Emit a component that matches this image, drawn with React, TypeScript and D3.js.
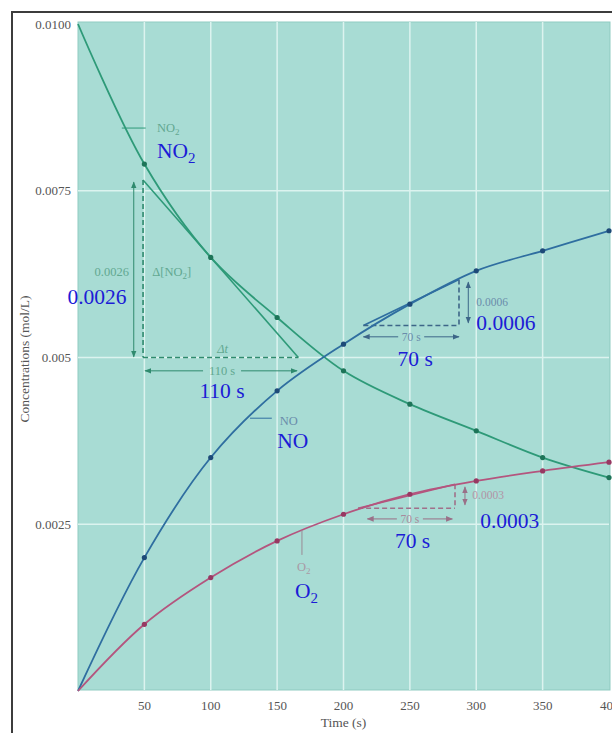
import React from 'react';
import * as d3 from 'd3';

// time points (s) and concentrations (mol/L)
const times = [0, 50, 100, 150, 200, 250, 300, 350, 400];
const no2 = [0.0100, 0.0079, 0.0065, 0.0056, 0.0048, 0.0043, 0.0039, 0.0035, 0.0032];
const no = [0, 0.0020, 0.0035, 0.0045, 0.0052, 0.0058, 0.0063, 0.0066, 0.0069];
const o2 = [0, 0.0010, 0.0017, 0.00225, 0.00265, 0.00295, 0.00315, 0.0033, 0.00343];

const xTicks = [50, 100, 150, 200, 250, 300, 350, 400];
const yTicks = [0.0025, 0.005, 0.0075, 0.01];
const yTickLabels = ['0.0025', '0.005', '0.0075', '0.0100'];

// tangent triangles: [t0, c0, t1, c1]
const tanNO2 = [49, 0.00766, 166, 0.0050];
const tanNO = [215, 0.00548, 287, 0.00617];
const tanO2 = [211, 0.00274, 284, 0.00310];

// blue overlay labels: text, t, c, anchor
const bigLabels = [
    {text: '0.0026', t: -8, c: 0.00592, a: 'start'},
    {text: '110 s', t: 108.5, c: 0.00451, a: 'middle'},
    {text: 'NO', t: 150, c: 0.00376, a: 'start'},
    {text: '0.0006', t: 300, c: 0.00553, a: 'start'},
    {text: '70 s', t: 254, c: 0.00499, a: 'middle'},
    {text: '0.0003', t: 303, c: 0.00256, a: 'start'},
    {text: '70 s', t: 252, c: 0.00226, a: 'middle'},
];

const W = 612, H = 733;
const serif = '"Liberation Serif", "Times New Roman", serif';
const BLUE = '#1c1cd6';
const BIG = 21.5;
const SMALL = 12.5;

const App = () => {
    const x = d3.scaleLinear().domain([0, 400]).range([78, 609]);
    const y = d3.scaleLinear().domain([0, 0.01]).range([691, 24]);

    const line = d3.line<number>()
        .x((d, i) => x(times[i]))
        .y(d => y(d))
        .curve(d3.curveCatmullRom.alpha(0.5));

    const series = [
        {vals: no2, color: '#2e9a78', dot: '#1d7458'},
        {vals: no, color: '#2f6ea0', dot: '#1d4a78'},
        {vals: o2, color: '#b4557e', dot: '#973862'},
    ];

    function tangent(tn, color, dash) {
        const [t0, c0, t1, c1] = tn;
        const base = Math.min(c0, c1);
        const xv = c0 > c1 ? t0 : t1;
        return (
            <g>
                <line x1={x(t0)} y1={y(c0)} x2={x(t1)} y2={y(c1)} stroke={color} strokeWidth={1.6}/>
                <path d={`M${x(xv)},${y(Math.max(c0, c1))}V${y(base)}M${x(t0)},${y(base)}H${x(t1)}`}
                      fill="none" stroke={dash} strokeWidth={1.6} strokeDasharray="5,3"/>
            </g>
        );
    }

    function vArrow(t, ca, cb, color, marker) {
        return <line x1={x(t)} y1={y(ca)} x2={x(t)} y2={y(cb)} stroke={color} strokeWidth={1}
                     markerStart={`url(#${marker})`} markerEnd={`url(#${marker})`}/>;
    }

    function hArrow(t0, t1, c, label, tm, color, txt, marker, gap, fs) {
        return (
            <g>
                <line x1={x(t0)} y1={y(c)} x2={x(tm) - gap} y2={y(c)} stroke={color} strokeWidth={1}
                      markerStart={`url(#${marker})`}/>
                <line x1={x(tm) + gap} y1={y(c)} x2={x(t1)} y2={y(c)} stroke={color} strokeWidth={1}
                      markerEnd={`url(#${marker})`}/>
                <text x={x(tm)} y={y(c)} dy="0.35em" textAnchor="middle" fontSize={fs} fill={txt}>{label}</text>
            </g>
        );
    }

    const markers = [['mg', '#2f8a6e'], ['mb', '#3d6688'], ['mp', '#9a7088']];

    return (
        <svg width={W} height={H} style={{position: 'absolute', left: 0, top: 0, background: '#fff'}}
             fontFamily={serif}>
            <defs>
                {markers.map(([id, c]) => (
                    <marker key={id} id={id} viewBox="0 0 10 10" refX="9" refY="5" markerWidth="7" markerHeight="7"
                            orient="auto-start-reverse" markerUnits="userSpaceOnUse">
                        <path d="M0,1L10,5L0,9Z" fill={c}/>
                    </marker>
                ))}
            </defs>

            {/* outer frame */}
            <rect x={12} y={12} width={640} height={760} fill="none" stroke="#3c3c3c" strokeWidth={2}/>

            {/* plot background */}
            <rect x={x(0)} y={22} width={x(400) + 1 - x(0)} height={y(0) - 22 - 1} fill="#a8dcd4"
                  stroke="#8fcbc1" strokeWidth={1}/>

            {/* grid */}
            {xTicks.slice(0, -1).map(t => (
                <line key={'gx' + t} x1={x(t)} x2={x(t)} y1={22} y2={y(0) - 1} stroke="#dcf3ef" strokeWidth={1.5}/>
            ))}
            {yTicks.slice(0, -1).map(c => (
                <line key={'gy' + c} x1={x(0)} x2={x(400)} y1={y(c)} y2={y(c)} stroke="#dcf3ef" strokeWidth={1.5}/>
            ))}

            {/* axes labels */}
            {xTicks.slice(0, -1).map(t => (
                <text key={'xt' + t} x={x(t)} y={y(0) + 14} dy="0.35em" textAnchor="middle" fontSize={13}
                      fill="#555">{t}</text>
            ))}
            {/* last tick label is cut by the picture edge in the original */}
            <text x={x(400) - 9} y={y(0) + 14} dy="0.35em" fontSize={13} fill="#555">40</text>
            {yTicks.map((c, i) => (
                <text key={'yt' + c} x={x(0) - 7} y={i === 3 ? 24 : y(c)} dy="0.35em" textAnchor="end" fontSize={13}
                      fill="#555">{yTickLabels[i]}</text>
            ))}
            <text x={(x(0) + x(400)) / 2} y={722} dy="0.35em" textAnchor="middle" fontSize={13.5} fill="#555">Time (s)</text>
            <text transform={`translate(24,359) rotate(-90)`} dy="0.35em" textAnchor="middle" fontSize={13.5}
                  fill="#555">Concentrations (mol/L)</text>

            {/* tangent constructions */}
            {tangent(tanNO2, '#2e9a78', '#2f8a6e')}
            {tangent(tanNO, '#2f6ea0', '#3d6688')}
            {tangent(tanO2, '#b4557e', '#a0708a')}

            {/* curves */}
            {series.map((s, k) => (
                <g key={'s' + k}>
                    <path d={line(s.vals)} fill="none" stroke={s.color} strokeWidth={1.8}/>
                    {s.vals.map((v, i) => i === 0 ? null : (
                        <circle key={i} cx={x(times[i])} cy={y(v)} r={2.6} fill={s.dot}/>
                    ))}
                </g>
            ))}

            {/* NO2 slope annotations */}
            {vArrow(42, 0.00763, 0.00501, '#2f8a6e', 'mg')}
            <text x={x(38.4)} y={y(0.00628)} dy="0.35em" textAnchor="end" fontSize={SMALL} fill="#62a891">0.0026</text>
            <text x={x(56)} y={y(0.00628)} dy="0.35em" fontSize={SMALL} fill="#62a891">
                Δ[NO<tspan fontSize={9} dy="3">2</tspan><tspan dy="-3">]</tspan>
            </text>
            <text x={x(109)} y={y(0.00513)} dy="0.35em" textAnchor="middle" fontSize={SMALL} fill="#62a891"
                  fontStyle="italic">Δt</text>
            {hArrow(50.5, 165, 0.0048, '110 s', 108.5, '#2f8a6e', '#62a891', 'mg', 19, SMALL)}

            {/* NO slope annotations */}
            {vArrow(294, 0.00613, 0.00552, '#3d6688', 'mb')}
            <text x={x(300)} y={y(0.00583)} dy="0.35em" fontSize={11.5} fill="#6a8cab">0.0006</text>
            {hArrow(215, 287, 0.00531, '70 s', 251, '#3d6688', '#6a8cab', 'mb', 13, 11.5)}

            {/* O2 slope annotations */}
            {vArrow(291.5, 0.00306, 0.00279, '#9a7088', 'mp')}
            <text x={x(297)} y={y(0.00294)} dy="0.35em" fontSize={11.5} fill="#b293a5">0.0003</text>
            {hArrow(218, 282, 0.00258, '70 s', 250, '#9a7088', '#a88a9c', 'mp', 13, 11.5)}

            {/* series name callouts */}
            <line x1={x(33)} x2={x(51)} y1={y(0.00844)} y2={y(0.00844)} stroke="#2e9a78" strokeWidth={1}/>
            <text x={x(59.5)} y={y(0.00844)} dy="0.35em" fontSize={SMALL} fill="#62a891">
                NO<tspan fontSize={9} dy="3">2</tspan>
            </text>
            <line x1={x(129.6)} x2={x(146)} y1={y(0.00409)} y2={y(0.00409)} stroke="#2f6ea0" strokeWidth={1}/>
            <text x={x(152)} y={y(0.00406)} dy="0.35em" fontSize={SMALL} fill="#6a8cab">NO</text>
            <line x1={x(168.7)} x2={x(168.7)} y1={y(0.00241)} y2={y(0.00204)} stroke="#9a8a94" strokeWidth={1}/>
            <text x={x(165)} y={y(0.00186)} dy="0.35em" fontSize={SMALL} fill="#a89aa5">
                O<tspan fontSize={9} dy="3">2</tspan>
            </text>

            {/* blue overlay labels */}
            <text x={x(59.5)} y={y(0.0081)} dy="0.35em" fontSize={BIG} fill={BLUE}>
                NO<tspan fontSize={15} dy="5">2</tspan>
            </text>
            <text x={x(163.5)} y={y(0.0015)} dy="0.35em" fontSize={BIG} fill={BLUE}>
                O<tspan fontSize={15} dy="5">2</tspan>
            </text>
            {bigLabels.map((b, i) => (
                <text key={'bl' + i} x={x(b.t)} y={y(b.c)} dy="0.35em" textAnchor={b.a} fontSize={BIG}
                      fill={BLUE}>{b.text}</text>
            ))}
        </svg>
    );
};

export default App;
